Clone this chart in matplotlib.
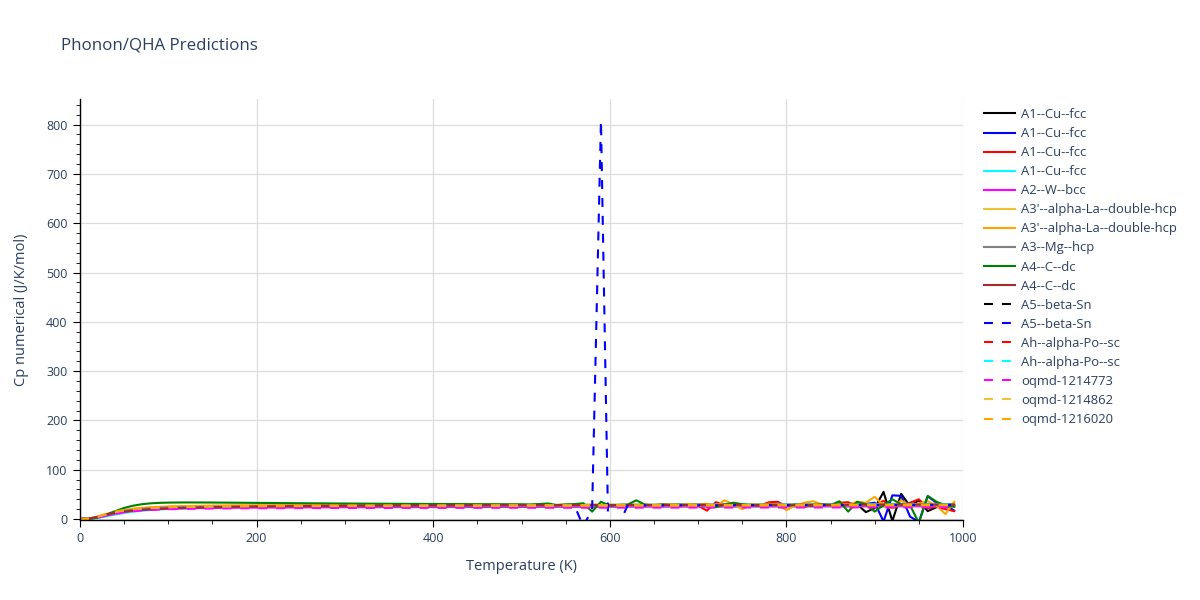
import matplotlib.pyplot as plt
from matplotlib.ticker import MultipleLocator

plt.rcParams['font.family'] = ['Open Sans', 'DejaVu Sans']

# temperature grids (K)
T_LO = [0, 10, 20, 30, 40, 50, 60, 70, 80, 90, 100, 120, 140, 160, 180, 200, 250, 300, 350, 400, 450]
T_SMOOTH = T_LO + [500, 600, 700, 800, 900, 990]
T_NOISY = T_LO + list(range(500, 1000, 10))
T_SPIKE = T_LO + [500, 550, 560, 570, 580, 590, 600, 610, 620, 630, 700, 800, 900, 990]

# Cp values (J/K/mol)
cu_black = [0, 0.6, 3.5, 8.0, 12.0, 15.5, 18.0, 19.8, 21.0, 21.9, 22.6, 23.5, 24.1, 24.5, 24.8, 25.0, 25.3, 25.5, 25.7, 25.9, 26.0,
            26.3, 26.0, 26.8, 26.1, 26.5, 26.9, 26.2, 27.0, 26.4, 26.8,
            26.5, 27.2, 26.6, 26.9, 26.3, 27.4, 26.8, 27.1, 26.7, 27.5,
            27.0, 26.4, 27.8, 27.2, 26.9, 27.6, 27.3, 26.5, 28.0, 27.4,
            27.1, 28.3, 26.8, 27.9, 27.0, 28.5, 26.2, 29.0, 30.0, 14.0,
            22.0, 55.0, -4.0, 51.0, 26.0, 38.0, 16.0, 24.0, 26.0, 27.0]
cu_blue = [0, 0.5, 3.2, 7.6, 11.6, 15.0, 17.6, 19.4, 20.7, 21.6, 22.3, 23.3, 23.9, 24.3, 24.6, 24.8, 25.2, 25.4, 25.6, 25.8, 25.9,
           26.0, 26.4, 26.1, 26.7, 26.3, 26.5, 26.9, 26.4, 26.8, 26.6,
           26.9, 26.5, 27.0, 26.7, 27.2, 26.8, 27.1, 26.9, 27.3, 27.0,
           27.2, 27.5, 27.0, 27.6, 27.3, 27.1, 27.8, 27.4, 27.2, 27.9,
           27.5, 27.3, 28.0, 27.6, 27.9, 28.2, 27.4, 28.5, 27.0, 30.5,
           33.0, -5.0, 48.0, 47.0, 5.0, -6.0, 46.0, 33.0, 29.0, 17.0]
cu_red = [0, 0.5, 3.0, 7.2, 11.2, 14.6, 17.2, 19.0, 20.3, 21.3, 22.0, 23.0, 23.7, 24.1, 24.4, 24.7, 25.1, 25.3, 25.5, 25.7, 25.8,
          26.0, 26.5, 25.8, 26.9, 26.2, 27.1, 26.4, 26.8, 27.5, 26.6,
          27.2, 26.3, 27.8, 26.9, 27.4, 26.6, 28.0, 27.1, 26.7, 28.4,
          27.0, 17.0, 34.0, 30.0, 27.0, 25.0, 28.5, 27.0, 34.0, 35.0,
          26.0, 28.0, 24.0, 30.0, 26.5, 29.0, 33.0, 34.0, 26.0, 29.0,
          27.0, 37.0, 22.0, 29.0, 33.0, 40.0, 22.0, 25.0, 20.0, 16.0]
cu_cyan = [0, 0.3, 2.0, 5.5, 9.0, 12.2, 14.8, 16.7, 18.2, 19.4, 20.3, 21.8, 22.8, 23.6, 24.2, 24.7, 25.7, 26.5, 27.1, 27.6, 28.0,
           28.4, 29.0, 29.5, 29.9, 30.3, 30.6]
w_bcc = [0, 0.4, 2.8, 6.8, 10.6, 13.9, 16.3, 18.0, 19.2, 20.1, 20.7, 21.6, 22.2, 22.6, 22.9, 23.1, 23.5, 23.8, 24.0, 24.2, 24.3,
         24.5, 24.8, 25.1, 25.3, 25.6, 25.8]
la_gold = [0, 0.8, 4.5, 9.8, 14.2, 17.6, 20.0, 21.7, 22.9, 23.8, 24.5, 25.5, 26.1, 26.5, 26.8, 27.0, 27.3, 27.5, 27.6, 27.7, 27.8,
           27.9, 28.1, 28.3, 28.5, 28.7, 28.9]
la_orange = [0, 0.9, 4.8, 10.2, 14.8, 18.3, 20.8, 22.6, 23.9, 24.8, 25.5, 26.5, 27.1, 27.5, 27.8, 28.0, 28.3, 28.5, 28.6, 28.7, 28.8,
             28.9, 28.7, 29.2, 28.8, 29.0, 29.4, 28.6, 29.1, 29.5, 28.9,
             29.3, 28.8, 29.6, 29.0, 29.4, 28.7, 29.8, 29.2, 28.9, 30.0,
             29.1, 31.0, 26.0, 38.0, 29.0, 20.0, 30.0, 28.5, 31.0, 29.0,
             18.0, 27.0, 33.0, 36.0, 30.0, 27.0, 32.0, 29.0, 35.0, 33.0,
             45.0, 27.0, 22.0, 38.0, 26.0, 31.0, 36.0, 27.0, 10.0, 35.0]
mg_gray = [0, 0.7, 4.0, 9.0, 13.2, 16.5, 18.9, 20.6, 21.8, 22.7, 23.3, 24.2, 24.8, 25.1, 25.4, 25.6, 25.9, 26.1, 26.2, 26.3, 26.4,
           26.5, 26.8, 27.0, 27.2, 27.4, 27.6]
c_green = [0, 0.5, 3.0, 9.0, 16.0, 22.5, 27.0, 30.0, 31.8, 32.8, 33.3, 33.6, 33.5, 33.3, 33.0, 32.7, 32.0, 31.4, 30.9, 30.5, 30.1,
           29.8, 29.5, 30.4, 31.5, 28.0, 29.6, 30.2, 32.0, 15.0, 35.0,
           27.0, 28.5, 29.0, 38.0, 29.0, 28.0, 29.5, 28.7, 29.2, 28.4,
           29.0, 28.5, 24.0, 29.5, 33.0, 30.0, 28.0, 27.5, 29.0, 28.5,
           27.5, 29.0, 28.0, 27.0, 30.0, 28.0, 36.0, 15.0, 35.0, 30.0,
           15.0, 28.0, 40.0, 30.0, 28.0, -8.0, 47.0, 35.0, 27.0, 25.0]
c_brown = [0, 1.0, 4.5, 9.0, 12.5, 15.0, 17.0, 18.6, 19.8, 20.8, 21.5, 22.7, 23.6, 24.3, 24.9, 25.3, 26.2, 26.8, 27.2, 27.5, 27.8,
           28.0, 28.4, 28.7, 29.0, 29.3, 29.5]
sn_black = [0, 0.8, 4.2, 9.0, 13.0, 16.2, 18.5, 20.1, 21.3, 22.2, 22.8, 23.7, 24.3, 24.7, 25.0, 25.2, 25.6, 25.9, 26.1, 26.3, 26.4,
            26.6, 26.9, 27.2, 27.4, 27.7, 27.9]
sn_blue = [0, 0.7, 3.9, 8.6, 12.6, 15.8, 18.2, 19.9, 21.1, 22.0, 22.7, 23.7, 24.3, 24.8, 25.1, 25.3, 25.8, 26.1, 26.4, 26.6, 26.8,
           27.0, 27.2, 27.3, -15.0, 20.0, 808.0, -200.0, -15.0, 27.5, 27.6, 27.8, 28.1, 28.3, 28.5]
po_red = [0, 0.6, 3.6, 8.3, 12.3, 15.6, 18.0, 19.7, 20.9, 21.8, 22.5, 23.5, 24.1, 24.5, 24.8, 25.0, 25.4, 25.7, 25.9, 26.1, 26.2,
          26.4, 26.7, 27.0, 27.2, 27.5, 27.7]
po_cyan = [0, 0.4, 2.6, 6.5, 10.4, 13.8, 16.5, 18.4, 19.9, 21.0, 21.9, 23.2, 24.0, 24.6, 25.1, 25.5, 26.1, 26.6, 27.0, 27.3, 27.5,
           27.7, 28.1, 28.4, 28.7, 29.0, 29.2]
oqmd_773 = [0, 0.5, 3.0, 7.0, 10.6, 13.6, 15.8, 17.4, 18.5, 19.3, 19.9, 20.7, 21.2, 21.5, 21.7, 21.9, 22.2, 22.4, 22.5, 22.6, 22.7,
            22.8, 23.0, 23.2, 23.4, 23.5, 23.7]
oqmd_862 = [0, 0.9, 4.6, 9.9, 14.2, 17.5, 19.8, 21.4, 22.5, 23.3, 23.9, 24.8, 25.3, 25.6, 25.8, 26.0, 26.3, 26.5, 26.6, 26.7, 26.8,
            26.9, 27.1, 27.3, 27.5, 27.7, 27.8]
oqmd_020 = [0, 1.0, 5.0, 10.5, 15.0, 18.3, 20.6, 22.2, 23.3, 24.1, 24.7, 25.6, 26.1, 26.4, 26.6, 26.8, 27.1, 27.3, 27.4, 27.5, 27.6,
            27.7, 27.9, 28.1, 28.3, 28.5, 28.7]

# (label, T, Cp, color, dashed)
series = [
    ('A1--Cu--fcc', T_NOISY, cu_black, 'black', False),
    ('A1--Cu--fcc', T_NOISY, cu_blue, 'blue', False),
    ('A1--Cu--fcc', T_NOISY, cu_red, 'red', False),
    ('A1--Cu--fcc', T_SMOOTH, cu_cyan, 'cyan', False),
    ('A2--W--bcc', T_SMOOTH, w_bcc, 'magenta', False),
    ("A3'--alpha-La--double-hcp", T_SMOOTH, la_gold, '#f2c232', False),
    ("A3'--alpha-La--double-hcp", T_NOISY, la_orange, 'orange', False),
    ('A3--Mg--hcp', T_SMOOTH, mg_gray, 'gray', False),
    ('A4--C--dc', T_NOISY, c_green, 'green', False),
    ('A4--C--dc', T_SMOOTH, c_brown, 'brown', False),
    ('A5--beta-Sn', T_SMOOTH, sn_black, 'black', True),
    ('A5--beta-Sn', T_SPIKE, sn_blue, 'blue', True),
    ('Ah--alpha-Po--sc', T_SMOOTH, po_red, 'red', True),
    ('Ah--alpha-Po--sc', T_SMOOTH, po_cyan, 'cyan', True),
    ('oqmd-1214773', T_SMOOTH, oqmd_773, 'magenta', True),
    ('oqmd-1214862', T_SMOOTH, oqmd_862, '#f2c232', True),
    ('oqmd-1216020', T_SMOOTH, oqmd_020, 'orange', True),
]

txt = '#2a3f5f'
fig = plt.figure(figsize=(12, 6), dpi=100)
ax = fig.add_axes([80 / 1200, 80 / 600, 883 / 1200, 421 / 600])

for label, t, cp, color, dashed in series:
    ls = (0, (4.3, 4.3)) if dashed else '-'
    ax.plot(t, cp, color=color, lw=1.5, linestyle=ls, label=label)

ax.set_xlim(0, 1000)
ax.set_ylim(-2, 852)
ax.xaxis.set_major_locator(MultipleLocator(200))
ax.xaxis.set_minor_locator(MultipleLocator(50))
ax.yaxis.set_major_locator(MultipleLocator(100))
ax.yaxis.set_minor_locator(MultipleLocator(20))
ax.grid(True, which='major', color='#dcdcdc', lw=0.9)
ax.set_axisbelow(True)
for s in ['top', 'right']:
    ax.spines[s].set_visible(False)
for s in ['left', 'bottom']:
    ax.spines[s].set_color('black')
    ax.spines[s].set_linewidth(1)
ax.tick_params(which='major', direction='out', length=5, color='black', labelsize=9, labelcolor=txt, pad=4)
ax.tick_params(which='minor', direction='out', length=3, color='black')

ax.set_xlabel('Temperature (K)', fontsize=10.5, color=txt, labelpad=10)
ax.set_ylabel('Cp numerical (J/K/mol)', fontsize=10.5, color=txt, labelpad=12)
fig.text(61 / 1200, 1 - 45 / 600, 'Phonon/QHA Predictions', fontsize=12.2, color=txt, va='center', ha='left')

leg = ax.legend(loc='upper left', bbox_to_anchor=(984 / 1200, 1 - 108 / 600), bbox_transform=fig.transFigure,
                frameon=False, fontsize=9.4, handlelength=2.4, handletextpad=0.45, labelspacing=0.465,
                borderaxespad=0, borderpad=0)
for t in leg.get_texts():
    t.set_color(txt)

fig.savefig('out.png', dpi=100)
